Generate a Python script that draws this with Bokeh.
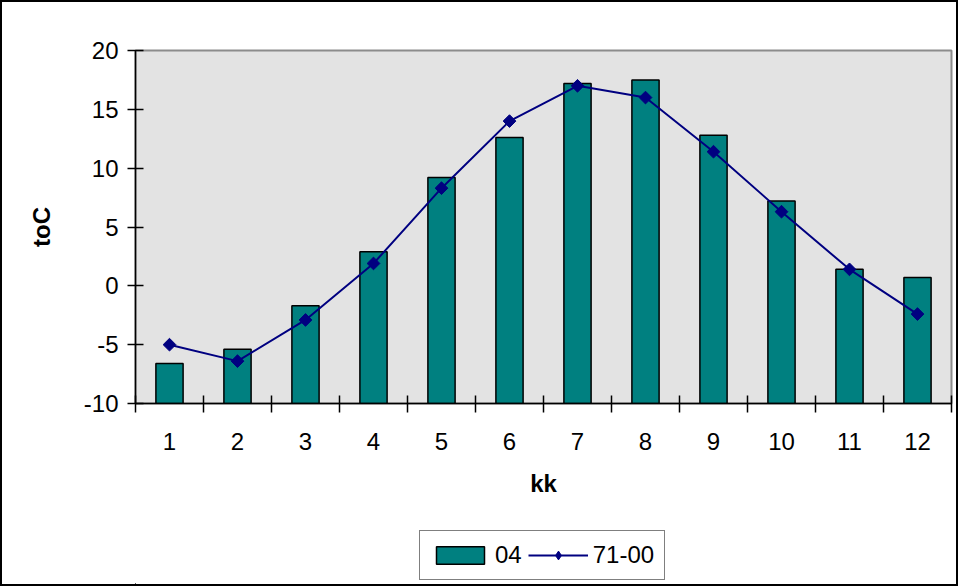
import math
from bokeh.plotting import figure
from bokeh.layouts import column
from bokeh.models import FixedTicker, Legend, LegendItem, Range1d
from bokeh.embed import file_html
from bokeh.resources import INLINE

# ---- data ----
months = [1, 2, 3, 4, 5, 6, 7, 8, 9, 10, 11, 12]
temp_04 = [-6.6, -5.4, -1.7, 2.9, 9.2, 12.6, 17.2, 17.5, 12.8, 7.2, 1.4, 0.7]
temp_71_00 = [-5.0, -6.4, -2.9, 1.9, 8.3, 14.0, 17.0, 16.0, 11.4, 6.3, 1.4, -2.4]
y_ticks = [-10, -5, 0, 5, 10, 15, 20]
series_names = ["04", "71-00"]
x_title = "kk"
y_title = "toC"

FONT = "Liberation Sans"
baseline = y_ticks[0]
BAR_STYLE = dict(fill_color="#008080", line_color="black", line_width=1.5)
LINE_STYLE = dict(line_color="#000080", line_width=2)

# ---------------- main chart ----------------
p = figure(width=954, height=520, output_backend="svg", toolbar_location=None,
           x_range=Range1d(0.5, 12.5), y_range=Range1d(y_ticks[0], y_ticks[-1]),
           min_border_left=133, min_border_right=5, min_border_top=48,
           min_border_bottom=119)
p.background_fill_color = "#E3E3E3"
p.border_fill_color = "white"
p.outline_line_color = "#8C8C8C"
p.outline_line_width = 2
p.xgrid.visible = False
p.ygrid.visible = False

p.vbar(x=months, top=temp_04, bottom=baseline, width=0.4, **BAR_STYLE)
p.line(months, temp_71_00, **LINE_STYLE)
p.scatter(months, temp_71_00, marker="square", angle=math.pi / 4, size=9,
          fill_color="#000080", line_color="#000080")

# x axis: labels at month centres, tick marks at category boundaries
xa = p.xaxis[0]
boundaries = [m - 0.5 for m in months] + [months[-1] + 0.5]
xa.ticker = FixedTicker(ticks=months, minor_ticks=boundaries)
xa.major_tick_line_color = None
xa.major_tick_in = 0
xa.major_tick_out = 0
xa.minor_tick_line_color = "black"
xa.minor_tick_in = 8
xa.minor_tick_out = 9
xa.minor_tick_line_width = 1.5
xa.axis_line_color = "black"
xa.axis_line_width = 1.5
xa.major_label_text_font = FONT
xa.major_label_text_font_size = "24px"
xa.major_label_text_color = "black"
xa.major_label_standoff = 20
xa.axis_label = x_title
xa.axis_label_text_font = FONT
xa.axis_label_text_font_size = "24px"
xa.axis_label_text_font_style = "bold"
xa.axis_label_text_color = "black"
xa.axis_label_standoff = 17

ya = p.yaxis[0]
ya.ticker = FixedTicker(ticks=y_ticks)
ya.major_label_overrides = {t: str(t) for t in y_ticks}
ya.major_tick_in = 8
ya.major_tick_out = 8
ya.major_tick_line_color = "black"
ya.major_tick_line_width = 1.5
ya.minor_tick_line_color = None
ya.axis_line_color = "black"
ya.axis_line_width = 1.5
ya.major_label_text_font = FONT
ya.major_label_text_font_size = "24px"
ya.major_label_text_color = "black"
ya.major_label_standoff = 9
ya.axis_label = y_title
ya.axis_label_text_font = FONT
ya.axis_label_text_font_size = "24px"
ya.axis_label_text_font_style = "bold"
ya.axis_label_text_color = "black"
ya.axis_label_standoff = 26

# ---------------- legend strip ----------------
# the strip's plot area is aligned with the main plot area by the column layout;
# its ranges keep the legend's own renderers out of view
q = figure(width=954, height=62, output_backend="svg", toolbar_location=None,
           x_axis_type=None, y_axis_type=None,
           x_range=Range1d(13, 14), y_range=Range1d(30, 31),
           min_border=0)
q.outline_line_color = None
q.background_fill_color = "white"
q.border_fill_color = "white"
q.xgrid.visible = False
q.ygrid.visible = False
lb = q.vbar(x=months, top=temp_04, bottom=baseline, width=0.4, **BAR_STYLE)
ll = q.line(months, temp_71_00, **LINE_STYLE)
lm = q.scatter(months, temp_71_00, marker="diamond", size=14,
               fill_color="#000080", line_color="#000080")

legend = Legend(items=[LegendItem(label=series_names[0], renderers=[lb]),
                       LegendItem(label=series_names[1], renderers=[ll, lm])],
                orientation="horizontal", location=(284, 4))
legend.border_line_color = "black"
legend.border_line_width = 1
legend.background_fill_color = "white"
legend.background_fill_alpha = 1
legend.label_text_font = FONT
legend.label_text_font_size = "24px"
legend.label_text_color = "black"
legend.glyph_width = 60
legend.glyph_height = 22
legend.label_standoff = 5
legend.spacing = 6
legend.padding = 10
legend.margin = 0
q.add_layout(legend)

layout = column(p, q, spacing=0)
layout.styles = {"border": "2px solid black"}

open("out.html", "w").write(file_html(layout, INLINE))
